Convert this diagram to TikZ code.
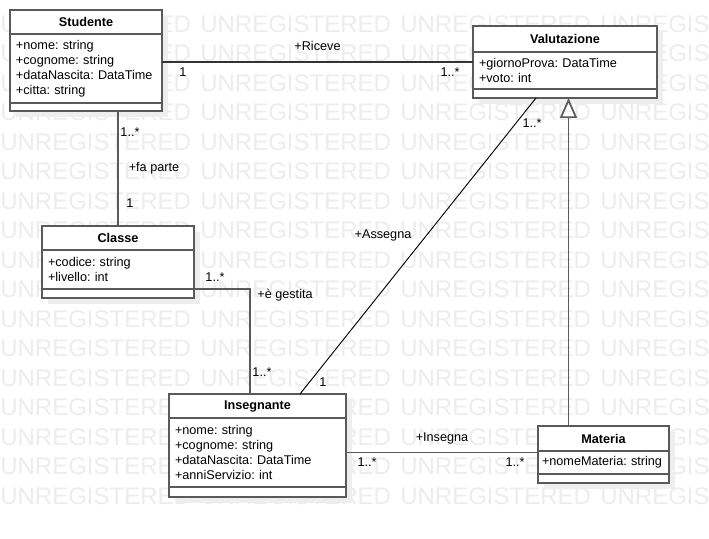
\documentclass[tikz,border=0pt]{standalone}
\usepackage{fontspec}
\setmainfont{Liberation Sans}
\usetikzlibrary{positioning,arrows.meta,shadows}
\frenchspacing

\definecolor{bordo}{HTML}{5A5A5A}
\definecolor{grigiomarchio}{HTML}{EDEDED}
\definecolor{ombra}{HTML}{EEEEEE}

\tikzset{
  testo/.style={font=\fontsize{9.5pt}{11.25pt}\selectfont},
  ombreggiato/.style={drop shadow={fill=ombra, opacity=1, shadow xshift=4.5pt, shadow yshift=-4.5pt}},
  titolo/.style={font=\fontsize{9.5pt}{11.25pt}\selectfont\bfseries, draw=bordo, line width=1.4pt,
    fill=white, inner sep=0pt, outer sep=0pt, ombreggiato},
  attributi/.style={testo, draw=bordo, line width=1.4pt, fill=white, inner xsep=4.5pt,
    inner ysep=0pt, outer sep=0pt, align=left, ombreggiato},
  vuoto/.style={draw=bordo, line width=1.4pt, fill=white, inner sep=0pt, outer sep=0pt, ombreggiato},
  assoc/.style={draw=bordo, line width=1.3pt},
  etich/.style={testo, inner sep=0pt, text=black},
  marchio/.style={anchor=west, inner sep=0pt, text=grigiomarchio, font=\fontsize{18pt}{18pt}\selectfont}
}

\begin{document}
\begin{tikzpicture}[x=0.75pt, y=-0.75pt]

    \useasboundingbox (0,0) rectangle (709,538);
    \fill[white] (0,0) rectangle (709,538);

    % Filigrana
    \foreach \riga in {0,...,16}
      \foreach \col in {0,...,3}
        \node[marchio] (wm-\riga-\col) at (\col*200, 24+\riga*29.5) {UNREGISTERED};

    % Studente
    \node[titolo, minimum width=114pt, minimum height=18pt, anchor=north west] (Stud) at (10,10) {Studente};
    \node[attributi, text width=105pt, minimum height=51.75pt, below=0pt of Stud] (StudAttr)
      {+nome: string\\+cognome: string\\+dataNascita: DataTime\\+citta: string};
    \node[vuoto, minimum width=114pt, minimum height=6pt, below=0pt of StudAttr] (StudVuoto) {};

    % Valutazione
    \node[titolo, minimum width=138pt, minimum height=19.5pt, anchor=north west] (Val) at (473,26) {Valutazione};
    \node[attributi, text width=129pt, minimum height=27.75pt, below=0pt of Val] (ValAttr)
      {+giornoProva: DataTime\\+voto: int};
    \node[vuoto, minimum width=138pt, minimum height=6.75pt, below=0pt of ValAttr] (ValVuoto) {};

    % Classe
    \node[titolo, minimum width=114pt, minimum height=18pt, anchor=north west] (Cla) at (42,226) {Classe};
    \node[attributi, text width=105pt, minimum height=29.25pt, below=0pt of Cla] (ClaAttr)
      {+codice: string\\+livello: int};
    \node[vuoto, minimum width=114pt, minimum height=6.75pt, below=0pt of ClaAttr] (ClaVuoto) {};

    % Insegnante
    \node[titolo, minimum width=132.75pt, minimum height=18pt, anchor=north west] (Ins) at (169,394) {Insegnante};
    \node[attributi, text width=123.75pt, minimum height=51.75pt, below=0pt of Ins] (InsAttr)
      {+nome: string\\+cognome: string\\+dataNascita: DataTime\\+anniServizio: int};
    \node[vuoto, minimum width=132.75pt, minimum height=7.5pt, below=0pt of InsAttr] (InsVuoto) {};

    % Materia
    \node[titolo, minimum width=98.25pt, minimum height=18.75pt, anchor=north west] (Mat) at (538,426) {Materia};
    \node[attributi, text width=92.25pt, inner xsep=3pt, minimum height=17.25pt, below=0pt of Mat] (MatAttr)
      {+nomeMateria: string};
    \node[vuoto, minimum width=98.25pt, minimum height=6.75pt, below=0pt of MatAttr] (MatVuoto) {};

    % Studente -- Valutazione
    \coordinate (RiceveA) at ([yshift=-21pt]StudAttr.north east);
    \draw[assoc, draw=black!80, line width=1.1pt] (RiceveA) -- (RiceveA -| ValAttr.west)
      node[etich, midway, yshift=12pt] {+Riceve}
      node[etich, pos=0, xshift=15.75pt, yshift=-7.5pt] {1}
      node[etich, pos=1, xshift=-17.25pt, yshift=-7.5pt] {1..*};

    % Studente -- Classe
    \draw[assoc] (Cla.north |- StudVuoto.south) -- (Cla.north)
      node[etich, pos=0, xshift=9pt, yshift=-15.75pt] {1..*}
      node[etich, midway, xshift=27pt] {+fa parte}
      node[etich, pos=1, xshift=9pt, yshift=17.25pt] {1};

    % Classe -- Insegnante
    \coordinate (GestitaB) at ([xshift=-5.625pt]Ins.north);
    \draw[assoc] (ClaAttr.south east) -| (GestitaB)
      node[etich, pos=0, xshift=15.75pt, yshift=9pt] {1..*}
      node[etich, pos=0.5, xshift=26.25pt, yshift=-4.5pt] {+è gestita}
      node[etich, pos=1, xshift=9pt, yshift=16.5pt] {1..*};

    % Insegnante -- Valutazione
    \coordinate (AssegnaA) at ([xshift=31.875pt]Ins.north);
    \coordinate (AssegnaB) at ([xshift=-21.75pt]ValVuoto.south);
    \draw[assoc, draw=black, line width=0.7pt] (AssegnaA) -- (AssegnaB)
      node[etich, midway, xshift=-26.25pt, yshift=8.25pt] {+Assegna}
      node[etich, pos=0, xshift=17.25pt, yshift=9pt] {1}
      node[etich, pos=1, xshift=-3pt, yshift=-18.75pt] {1..*};

    % Insegnante -- Materia
    \draw[assoc] (InsAttr.east) -- (InsAttr.east -| Mat.west)
      node[etich, midway, yshift=10.5pt] {+Insegna}
      node[etich, pos=0, xshift=15.75pt, yshift=-7.5pt] {1..*}
      node[etich, pos=1, xshift=-17.25pt, yshift=-7.5pt] {1..*};

    % Materia -> Valutazione (generalizzazione)
    \coordinate (GenA) at ([xshift=-26.25pt]Mat.north);
    \draw[assoc, -{Triangle[open, width=12.75pt, length=15pt]}] (GenA) -- (GenA |- ValVuoto.south);

\end{tikzpicture}
\end{document}
